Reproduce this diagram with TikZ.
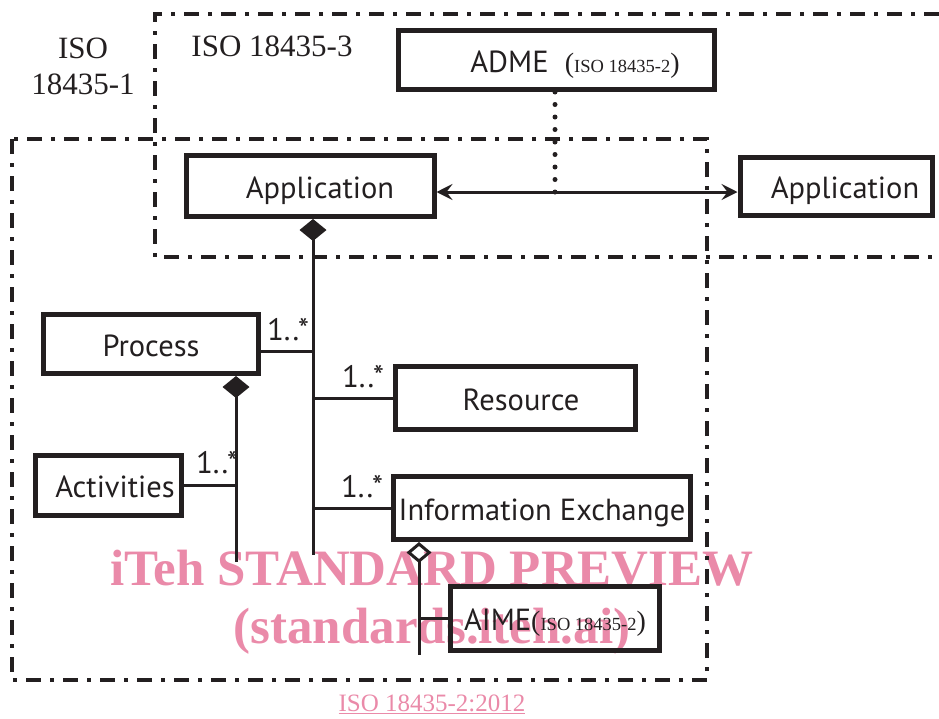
\documentclass[tikz,border=0pt]{standalone}
\usepackage{fontspec}
\setmainfont{Liberation Serif}
\newfontfamily\boxfont{PT Sans}
\usepackage{tikz}
\usetikzlibrary{arrows.meta}
\definecolor{myblack}{HTML}{231F20}
\definecolor{mypink}{HTML}{EA8AA9}
\newcommand{\isopart}[1]{{\rmfamily\fontsize{28}{30}\selectfont(\fontsize{18.5}{22}\selectfont #1\fontsize{28}{30}\selectfont)}}
\tikzset{
umlbox/.style={
draw=myblack,
line width=5pt,
inner sep=0pt,
text height=24pt,
text depth=0pt,
font=\boxfont\fontsize{30.5}{34}\selectfont,
text=myblack
},
conn/.style={
draw=myblack,
line width=3pt
},
dotline/.style={
draw=myblack,
line width=5pt,
line cap=round,
dash pattern=on 0pt off 12.5pt
},
pkgframe/.style={
draw=myblack,
line width=4pt,
dash pattern=on 15pt off 9pt on 4pt off 9pt
},
mult/.style={
font=\boxfont\fontsize{31}{34}\selectfont,
text=myblack,
inner sep=0pt
},
isolabel/.style={
font=\fontsize{31}{36}\selectfont,
text=myblack,
inner sep=0pt
},
wmtext/.style={
font=\bfseries\fontsize{51}{56}\selectfont,
text=mypink,
inner sep=0pt
},
wmlink/.style={
font=\fontsize{25}{28}\selectfont,
text=mypink,
inner sep=0pt
},
whole/.style={
{Diamond[length=22pt,width=27pt]}-
},
part/.style={
{Diamond[open,length=21pt,width=25pt]}-
},
both/.style={
{Stealth[length=16pt,width=16pt,inset=6pt]}-{Stealth[length=16pt,width=16pt,inset=6pt]}
}
}

\begin{document}
\begin{tikzpicture}[x=1pt,y=-1pt]
\useasboundingbox (0,0) rectangle (939,718);

\node[wmtext, anchor=base] (wmone) at (432,585) {iTeh STANDARD PREVIEW};
\node[wmtext, anchor=base] (wmtwo) at (432,643) {(standards.iteh.ai)};
\node[wmlink, anchor=base] (wmref) at (432,711) {\underline{ISO 18435-2:2012}};

% package frames
\draw[pkgframe] (939,14) -- (155,14) -- (155,257) -- (939,257);
\draw[pkgframe] (12,139) rectangle (707,680);
\node[isolabel, align=center] (isoone) at (83,66) {ISO\\18435-1};
\node[isolabel] (isothree) at (272,46) {ISO 18435-3};

% classes
\node[umlbox, minimum width=316pt, minimum height=59pt] (adme) at (556,60)
  {\hspace*{38pt}ADME\ \ \isopart{ISO 18435-2}};
\node[umlbox, minimum width=248pt, minimum height=61pt] (appleft) at (310,186)
  {\hspace*{20pt}Application};
\node[umlbox, minimum width=192pt, minimum height=58pt] (appright) at (836,186)
  {\hspace*{18pt}Application};
\node[umlbox, minimum width=215pt, minimum height=59pt] (process) at (151,344) {Process};
\node[umlbox, minimum width=146pt, minimum height=60pt] (activities) at (108,485)
  {\hspace*{14pt}Activities};
\node[umlbox, minimum width=240pt, minimum height=63pt] (resource) at (515,398)
  {\hspace*{12pt}Resource};
\node[umlbox, minimum width=297pt, minimum height=63pt] (infoex) at (542,508)
  {Information Exchange};
\node[umlbox, minimum width=209pt, minimum height=64pt] (aime) at (555,618)
  {AIME\isopart{ISO 18435-2}};

% joints
\coordinate (appjoin) at (555,192);
\coordinate (spine) at (313,555);
\coordinate (procjoin) at (313,351);
\coordinate (procspine) at (236,562);
\coordinate (partspine) at (419,655);

\draw[conn, both] (appleft.east |- appjoin) -- (appright.west |- appjoin);
\draw[dotline] (adme.south -| appjoin) -- (appjoin);

\draw[conn, whole] (appleft.south -| spine) -- (spine);
\draw[conn] (process.east |- procjoin) -- (procjoin);
\draw[conn] (resource.west) -- (resource.west -| spine);
\draw[conn] (infoex.west) -- (infoex.west -| spine);

\draw[conn, whole] (process.south -| procspine) -- (procspine);
\draw[conn] (activities.east) -- (activities.east -| procspine);

\draw[conn, part] (infoex.south -| partspine) -- (partspine);
\draw[conn] (aime.west) -- (aime.west -| partspine);

\node[mult] (mproc) at (288,330) {1..*};
\node[mult] (mres) at (363,377) {1..*};
\node[mult] (mact) at (217,463) {1..*};
\node[mult] (minfo) at (362,487) {1..*};

\end{tikzpicture}
\end{document}
